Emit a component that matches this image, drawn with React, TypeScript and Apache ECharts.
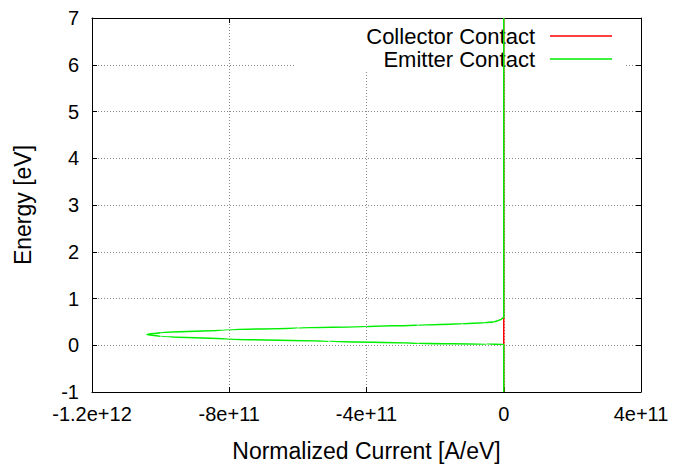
import React, { useEffect, useRef } from "react";
import * as echarts from "echarts";

// Emitter contact: [normalized current (A/eV), energy (eV)]
const emitterCurrent = [0, 0, -0.5e11, -2.5e11, -5.1e11, -8.0e11, -1.0e12, -1.04e12, -1.0e12, -8.0e11, -6.0e11, -4.0e11, -2.5e11, -1.2e11, -0.55e11, -0.3e11, -0.15e11, -0.06e11, 0, 0];
const emitterEnergy = [-1, 0.02, 0.025, 0.04, 0.085, 0.13, 0.19, 0.23, 0.27, 0.33, 0.37, 0.40, 0.43, 0.46, 0.48, 0.50, 0.53, 0.56, 0.6, 7];
// Collector contact
const collectorCurrent = [0, 0, 0];
const collectorEnergy = [-1, 0.3, 7];

const xTicks = { min: -1.2e12, max: 4e11, interval: 4e11 };
const yTicks = { min: -1, max: 7, interval: 1 };
const xTickLabels: Record<string, string> = {
  "-1200000000000": "-1.2e+12",
  "-800000000000": "-8e+11",
  "-400000000000": "-4e+11",
  "0": "0",
  "400000000000": "4e+11",
};

const FONT = "Liberation Sans";
const FS = 23;
const TICK_FS = 20;
const LEGEND_FS = 22;

function fmtX(v: number): string {
  return xTickLabels[String(Math.round(v))] ?? String(v);
}

export default function App() {
  const ref = useRef<HTMLDivElement>(null);
  useEffect(() => {
    if (!ref.current) return;
    const chart = echarts.init(ref.current, undefined, { renderer: "svg", width: 691, height: 467 });
    const emitter = emitterCurrent.map((x, i) => [x, emitterEnergy[i]]);
    const collector = collectorCurrent.map((x, i) => [x, collectorEnergy[i]]);
    const gridLine = { show: true, lineStyle: { color: "#888", type: [1, 2] as any, width: 1 } };
    const legendCommon = {
      right: 74,
      align: "right",
      icon: "rect",
      itemWidth: 62,
      itemHeight: 1.5,
      itemGap: 0,
      textStyle: { fontFamily: FONT, fontSize: LEGEND_FS, lineHeight: 22, color: "#000", padding: [0, 10, 0, 0] },
      z: 3,
    };
    chart.setOption({
      animation: false,
      backgroundColor: "#fff",
      textStyle: { fontFamily: FONT },
      grid: { left: 92, right: 50, top: 18, bottom: 72, show: false },
      graphic: [
        {
          type: "rect",
          z: 1,
          shape: { x: 295, y: 19, width: 330, height: 53 },
          style: { fill: "#fff" },
        },
      ],
      legend: [
        { ...legendCommon, data: ["Collector Contact"], top: 20 },
        { ...legendCommon, data: ["Emitter Contact"], top: 43 },
      ],
      xAxis: [
        {
          type: "value",
          ...xTicks,
          name: "Normalized Current [A/eV]",
          nameLocation: "middle",
          nameGap: 47,
          nameTextStyle: { fontFamily: FONT, fontSize: FS, color: "#000" },
          axisLine: { show: true, onZero: false, lineStyle: { color: "#000", width: 1 } },
          axisTick: { show: true, inside: true, length: 5, lineStyle: { color: "#000" } },
          axisLabel: { fontFamily: FONT, fontSize: TICK_FS, color: "#000", margin: 12, formatter: fmtX },
          splitLine: gridLine,
        },
        {
          type: "value",
          ...xTicks,
          position: "top",
          axisLine: { show: true, onZero: false, lineStyle: { color: "#000", width: 1 } },
          axisTick: { show: true, inside: true, length: 5, lineStyle: { color: "#000" } },
          axisLabel: { show: false },
          splitLine: { show: false },
        },
      ],
      yAxis: [
        {
          type: "value",
          ...yTicks,
          name: "Energy [eV]",
          nameLocation: "middle",
          nameGap: 58,
          nameTextStyle: { fontFamily: FONT, fontSize: FS, color: "#000" },
          axisLine: { show: true, onZero: false, lineStyle: { color: "#000", width: 1 } },
          axisTick: { show: true, inside: true, length: 5, lineStyle: { color: "#000" } },
          axisLabel: { fontFamily: FONT, fontSize: TICK_FS, color: "#000", margin: 13 },
          splitLine: gridLine,
        },
        {
          type: "value",
          ...yTicks,
          position: "right",
          axisLine: { show: true, onZero: false, lineStyle: { color: "#000", width: 1 } },
          axisTick: { show: true, inside: true, length: 5, lineStyle: { color: "#000" } },
          axisLabel: { show: false },
          splitLine: { show: false },
        },
      ],
      series: [
        {
          name: "Collector Contact",
          type: "line",
          data: collector,
          showSymbol: false,
          symbol: "none",
          color: "#ff0000",
          lineStyle: { color: "#ff0000", width: 1.5 },
          z: 5,
        },
        {
          name: "Emitter Contact",
          type: "line",
          data: emitter,
          showSymbol: false,
          symbol: "none",
          smooth: 0.3,
          smoothMonotone: "y",
          color: "#00ee00",
          lineStyle: { color: "#00ee00", width: 1.5, opacity: 1 },
          z: 6,
        },
      ],
    });
    return () => chart.dispose();
  }, []);
  return <div ref={ref} style={{ width: 691, height: 467, position: "absolute", left: 0, top: 0 }} />;
}
